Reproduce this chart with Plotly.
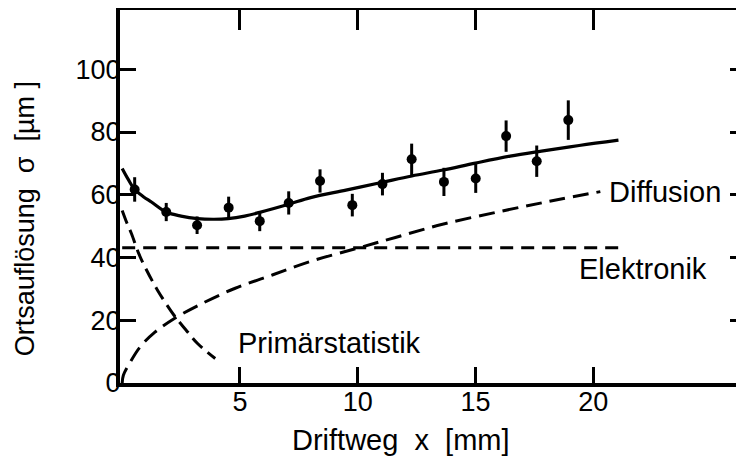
import plotly.graph_objects as go

# Measured data points (Driftweg x in mm, Ortsauflösung sigma in µm)
x_points = [0.53, 1.87, 3.18, 4.52, 5.84, 7.07, 8.40, 9.77, 11.05, 12.29, 13.66, 15.01, 16.30, 17.60, 18.94]
y_points = [61.7, 54.5, 50.3, 55.9, 51.6, 57.4, 64.4, 56.7, 63.4, 71.3, 64.1, 65.2, 78.7, 70.7, 83.8]
y_err = [3.9, 2.9, 2.8, 3.5, 3.2, 3.7, 3.7, 3.6, 3.6, 5.0, 4.5, 4.6, 5.0, 5.0, 6.3]

# Total fit curve
x_total = [0, 0.25, 0.53, 0.9, 1.24, 1.87, 2.5, 3.2, 3.9, 4.5, 5.2, 5.84, 7.07, 8.0, 9.5,
           11.05, 12.3, 13.63, 15.0, 16.47, 17.8, 19.4, 21.07]
y_total = [68.4, 65.0, 61.7, 59.4, 57.7, 54.5, 53.2, 52.4, 52.2, 52.4, 53.2, 54.4, 57.0, 59.1, 61.5,
           64.0, 66.0, 67.9, 70.1, 72.3, 73.9, 75.7, 77.4]

# Diffusion contribution
x_diff = [0, 0.05, 0.33, 0.76, 1.39, 2.2, 3.3, 4.8, 6.4, 8.1, 10.0, 11.6, 13.6, 16.0, 18.2, 20.3]
y_diff = [0, 2.5, 6.5, 11.5, 16.2, 20.5, 25.0, 30.2, 34.5, 39.0, 43.0, 46.4, 50.6, 54.6, 58.0, 61.0]

# Elektronik contribution (constant)
x_elek = [0, 21.07]
y_elek = [43.1, 43.1]

# Primärstatistik contribution
x_prim = [0, 0.2, 0.4, 0.7, 1.0, 1.5, 2.2, 2.7, 3.2, 3.95]
y_prim = [55.0, 51.0, 47.5, 41.3, 36.5, 29.6, 21.6, 17.0, 12.6, 7.8]

x_ticks = [5, 10, 15, 20]
y_ticks = [0, 20, 40, 60, 80, 100]
y_ticks_right = [20, 40, 60, 80, 100]

labels = [("Diffusion", 20.59, 60.9), ("Elektronik", 19.31, 36.3), ("Primärstatistik", 4.85, 12.8)]

FONT = "Liberation Sans, Arial, sans-serif"
X_RANGE = [-0.093, 26.4]
Y_RANGE = [0, 118.9]

fig = go.Figure()

fig.add_trace(go.Scatter(x=x_elek, y=y_elek, mode="lines",
                         line=dict(color="black", width=3, dash="13px,8px"), hoverinfo="skip"))
fig.add_trace(go.Scatter(x=x_diff, y=y_diff, mode="lines", line_shape="spline",
                         line=dict(color="black", width=3, dash="16px,8px"), hoverinfo="skip"))
fig.add_trace(go.Scatter(x=x_prim, y=y_prim, mode="lines", line_shape="spline",
                         line=dict(color="black", width=3, dash="14px,7px"), hoverinfo="skip"))
fig.add_trace(go.Scatter(x=x_total, y=y_total, mode="lines", line_shape="spline",
                         line=dict(color="black", width=3.2), hoverinfo="skip"))
fig.add_trace(go.Scatter(x=x_points, y=y_points, mode="markers",
                         marker=dict(color="black", size=10),
                         error_y=dict(type="data", array=y_err, visible=True,
                                      color="black", thickness=3, width=0)))
# empty trace so that the top / right frame axes get drawn
fig.add_trace(go.Scatter(x=[], y=[], xaxis="x2", yaxis="y2", mode="lines", hoverinfo="skip"))

for text, lx, ly in labels:
    fig.add_annotation(x=lx, y=ly, xref="x", yref="y", text=text, showarrow=False,
                       xanchor="left", yanchor="middle",
                       font=dict(family=FONT, size=29, color="black"))

# axis titles
fig.add_annotation(x=0.451, y=-0.154, xref="paper", yref="paper", text="Driftweg  x  [mm]",
                   showarrow=False, xanchor="center", yanchor="middle",
                   font=dict(family=FONT, size=29, color="black"))
fig.add_annotation(x=0, y=0.439, xref="paper", yref="paper", xshift=-95,
                   text="Ortsauflösung  σ  [µm ]", textangle=-90,
                   showarrow=False, xanchor="center", yanchor="middle",
                   font=dict(family=FONT, size=27, color="black"))

# The page body has an 8px default margin; size the figure so the plot lands where the reference has it.
fig.update_layout(
    width=736, height=455,
    margin=dict(l=112, r=0, t=2, b=80),
    paper_bgcolor="white", plot_bgcolor="white",
    showlegend=False,
    xaxis=dict(range=X_RANGE, tickvals=x_ticks, ticks="inside", ticklen=16, tickwidth=3,
               tickcolor="black", showline=True, linewidth=3.5, linecolor="black",
               showgrid=False, zeroline=False, ticklabelstandoff=-8,
               tickfont=dict(family=FONT, size=27, color="black")),
    yaxis=dict(range=Y_RANGE, tickvals=y_ticks, ticks="inside", ticklen=16, tickwidth=3,
               tickcolor="black", showline=True, linewidth=4, linecolor="black",
               showgrid=False, zeroline=False, ticklabelstandoff=-10,
               tickfont=dict(family=FONT, size=27, color="black")),
    xaxis2=dict(range=X_RANGE, tickvals=x_ticks, ticks="inside", ticklen=20, tickwidth=3,
                tickcolor="black", showline=True, linewidth=2.5, linecolor="black",
                showgrid=False, zeroline=False, showticklabels=False,
                overlaying="x", side="top", anchor="y2"),
    yaxis2=dict(range=Y_RANGE, tickvals=y_ticks_right, ticks="inside", ticklen=14, tickwidth=3,
                tickcolor="black", showline=False, showgrid=False, zeroline=False,
                showticklabels=False, overlaying="y", side="right", anchor="x2"),
)

fig.write_html("out.html")
